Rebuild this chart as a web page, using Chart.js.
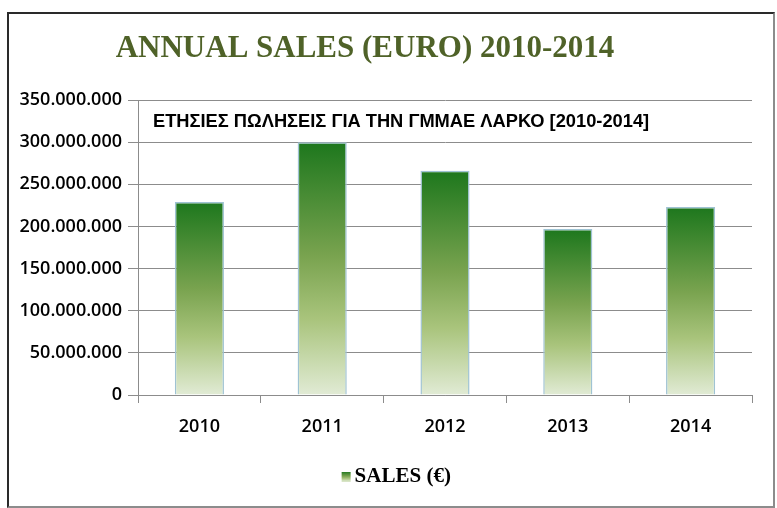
<!DOCTYPE html>
<html>
<head>
<meta charset="utf-8">
<script src="https://cdn.jsdelivr.net/npm/chart.js@4.4.0/dist/chart.umd.min.js"></script>
<style>
	body { margin: 0; background: #fff; }
	#wrap { position: relative; width: 777px; height: 508px; }
	#frame { position: absolute; left: 7px; top: 12px; width: 764px; height: 492px;
		border-top: 2px solid #2a2a2a; border-left: 2px solid #2a2a2a;
		border-right: 2px solid #8c8c8c; border-bottom: 2px solid #8c8c8c; pointer-events: none; }
	canvas { position: absolute; left: 0; top: 0; }
</style>
</head>
<body>
<div id="wrap">
	<canvas id="salesChart" width="777" height="508"></canvas>
	<div id="frame"></div>
</div>
<script>
	// data
	var years = ["2010", "2011", "2012", "2013", "2014"];
	var sales = [229000000, 300000000, 266000000, 197000000, 223000000];
	var seriesName = "SALES (€)";
	var mainTitle = "ANNUAL SALES (EURO) 2010-2014";
	var innerTitle = "ΕΤΗΣΙΕΣ ΠΩΛΗΣΕΙΣ ΓΙΑ ΤΗΝ ΓΜΜΑΕ ΛΑΡΚΟ [2010-2014]";
	var yMax = 350000000;
	var yStep = 50000000;

	// 그라데이션 색
	function addStops(grad) {
		grad.addColorStop(0, "#1d771d");
		grad.addColorStop(0.45, "#79a34f");
		grad.addColorStop(0.7, "#a9c47c");
		grad.addColorStop(1, "#e1ebd5");
		return grad;
	} // addStops

	// 막대별 그라데이션
	function barFill(ctx) {
		var chart = ctx.chart;
		var y = chart.scales.y;
		if (!chart.chartArea || !y || !ctx.parsed) {
			return "#79a34f";
		} // end if
		var top = y.getPixelForValue(ctx.parsed.y);
		var bottom = y.getPixelForValue(0);
		if (!isFinite(top) || !isFinite(bottom) || top == bottom) {
			return "#79a34f";
		} // end if
		return addStops(chart.ctx.createLinearGradient(0, top, 0, bottom));
	} // barFill

	// 범례 상자 (오른쪽으로 치우친 작은 사각형)
	var legendBox = document.createElement("canvas");
	legendBox.width = 100;
	legendBox.height = 10;
	var lctx = legendBox.getContext("2d");
	lctx.fillStyle = addStops(lctx.createLinearGradient(0, 0, 0, 10));
	lctx.fillRect(69, 0, 9, 10);

	// 점 구분 숫자
	function dotNumber(v) {
		return String(v).replace(/\B(?=(\d{3})+(?!\d))/g, ".");
	} // dotNumber

	// 제목 그리기
	var titlePlugin = {
		id: "titles",
		afterDraw: function(chart) {
			var c = chart.ctx;
			c.save();
			c.fillStyle = "#4f6228";
			c.font = "bold 31px 'Liberation Serif', serif";
			c.textAlign = "center";
			c.textBaseline = "alphabetic";
			c.fillText(mainTitle, 365, 57);
			c.fillStyle = "#000";
			c.font = "bold 18.3px 'Liberation Sans', Arial, sans-serif";
			c.textAlign = "left";
			c.fillText(innerTitle, 153, 127);
			c.restore();
		} // afterDraw
	}; // titlePlugin

	var chart = new Chart(document.getElementById("salesChart"), {
		type: "bar",
		data: {
			labels: years,
			datasets: [{
				label: seriesName,
				data: sales,
				backgroundColor: barFill,
				borderColor: "#9fc3d3",
				borderWidth: 1.5,
				barPercentage: 0.8,
				categoryPercentage: 0.5
			}]
		},
		plugins: [titlePlugin],
		options: {
			responsive: false,
			animation: false,
			layout: {
				padding: { top: 100, left: 0, right: 25, bottom: 11 }
			},
			plugins: {
				tooltip: { enabled: false },
				legend: {
					position: "bottom",
					labels: {
						usePointStyle: true,
						pointStyle: legendBox,
						pointStyleWidth: 43,
						color: "#000",
						padding: 10,
						font: { family: "'Liberation Serif', serif", size: 21, weight: "bold" }
					}
				}
			},
			scales: {
				x: {
					grid: { offset: true, drawOnChartArea: false, color: "#8c8c8c", tickLength: 8 },
					border: { display: true, color: "#8c8c8c" },
					ticks: {
						color: "#000",
						padding: 13,
						font: { family: "'Open Sans', sans-serif", size: 18, weight: "600" }
					},
					afterFit: function(scale) {
						scale.height = 61;
					}
				},
				y: {
					min: 0,
					max: yMax,
					grid: { color: "#8c8c8c", tickLength: 10 },
					border: { display: true, color: "#8c8c8c" },
					ticks: {
						stepSize: yStep,
						color: "#000",
						padding: 6,
						font: { family: "'Open Sans', sans-serif", size: 18, weight: "600" },
						callback: function(v) {
							return dotNumber(v);
						}
					},
					afterFit: function(scale) {
						scale.width = 138;
					}
				}
			}
		}
	}); // end chart
</script>
</body>
</html>
